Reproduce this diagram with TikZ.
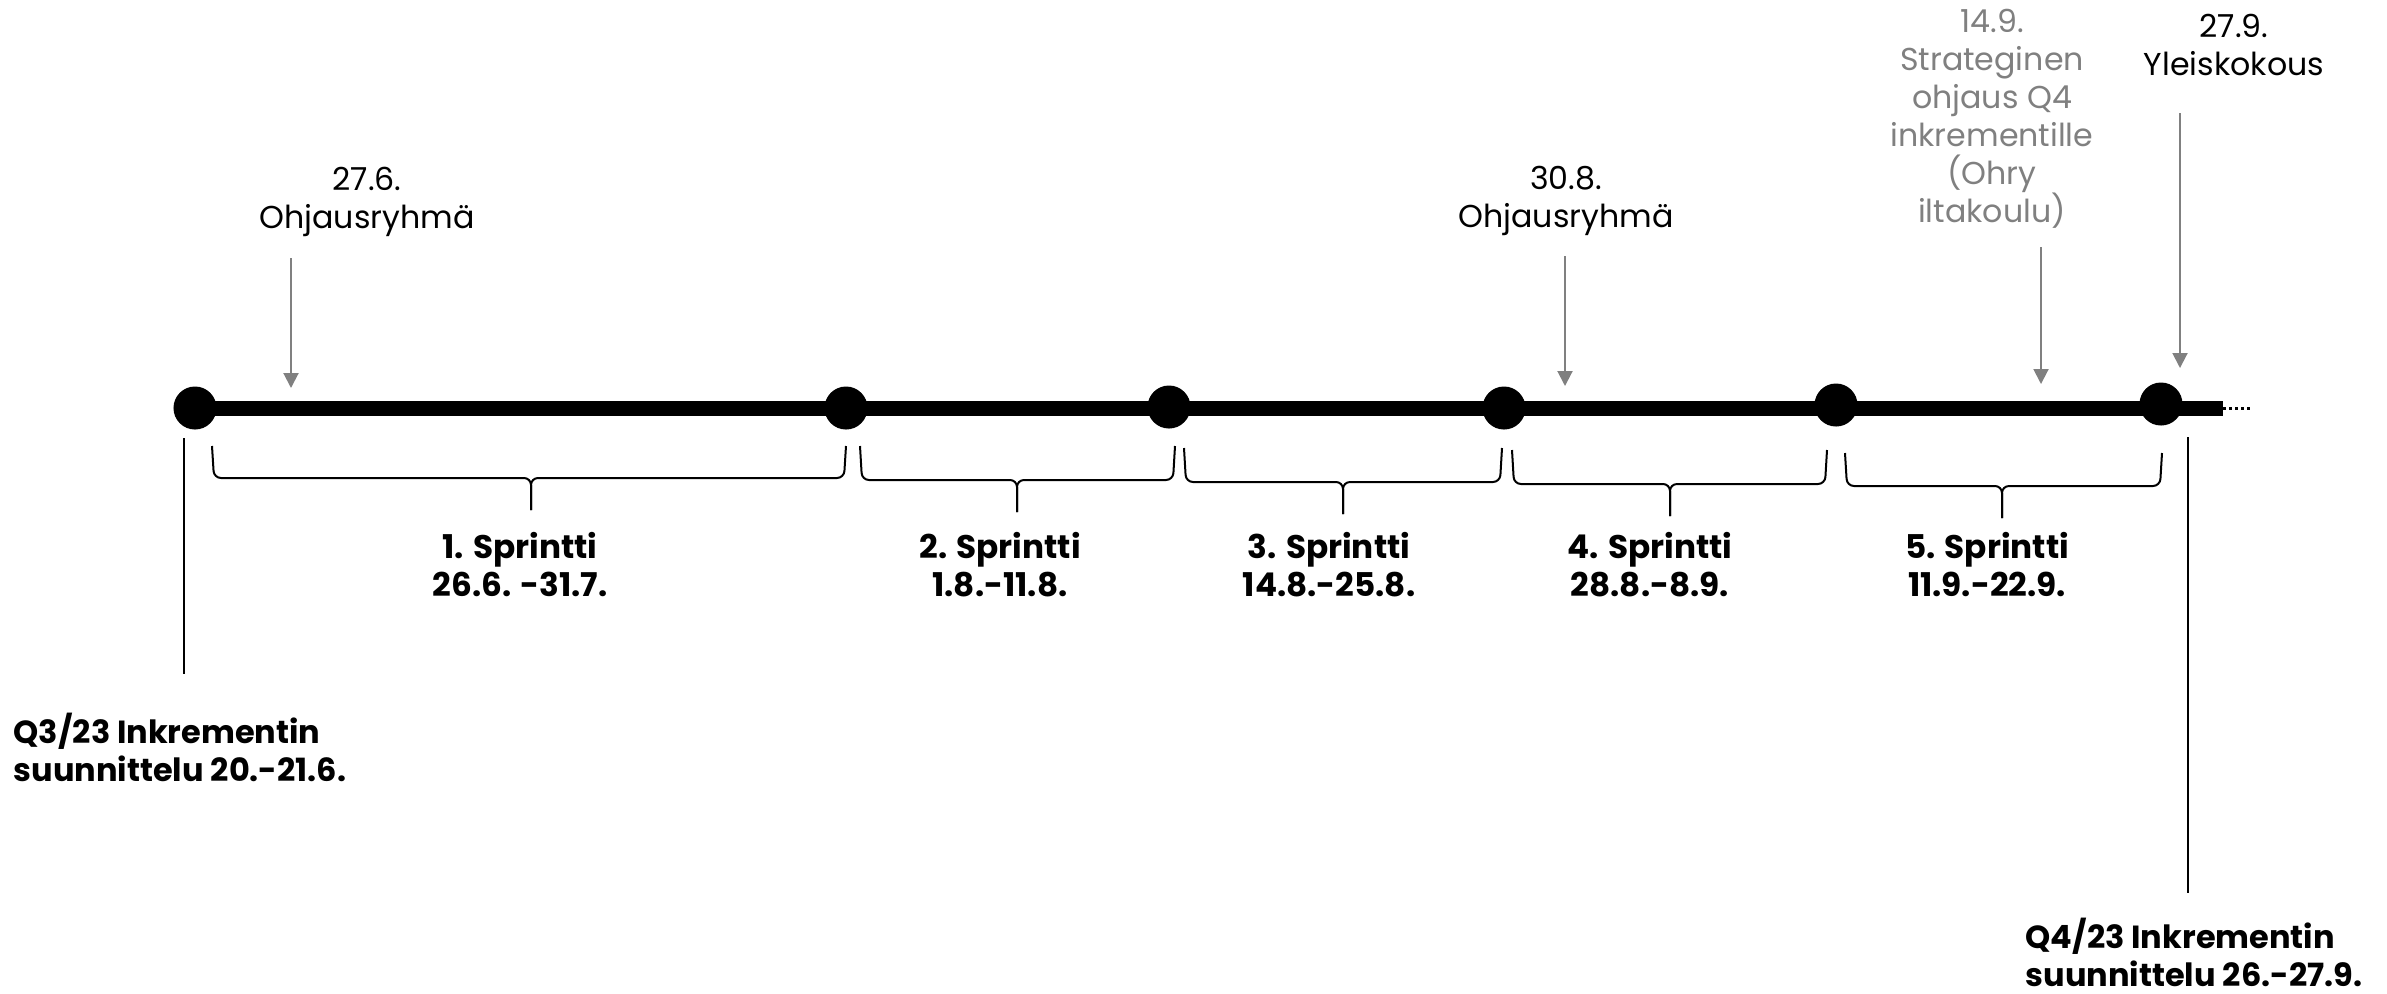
\documentclass[tikz,border=0pt]{standalone}
\usepackage{fontspec}
\setmainfont{Poppins}
\usetikzlibrary{arrows.meta}
\definecolor{notegray}{HTML}{808080}

\begin{document}
\begin{tikzpicture}[x=0.01cm,y=-0.01cm,
    timeline/.style={line width=0.15cm},
    dot/.style={circle,fill=black,inner sep=0pt,minimum size=0.43cm},
    braceline/.style={line width=0.02cm,rounded corners=0.07cm},
    tickline/.style={line width=0.02cm},
    notearrow/.style={draw=notegray,line width=0.02cm,-{Triangle[length=0.15cm,width=0.15cm]}},
    note/.style={align=center,anchor=base,inner sep=0pt,font=\fontsize{9}{10.77}\selectfont},
    sprint/.style={align=center,anchor=base,inner sep=0pt,font=\fontsize{9.3}{10.77}\selectfont\bfseries},
    plan/.style={align=left,anchor=base west,inner sep=0pt,font=\fontsize{9.1}{10.77}\selectfont\bfseries}]
    \useasboundingbox (0,0) rectangle (2387,993);

    % Sprint boundaries on the time line
    \node[dot] (d1) at (195,408) {};
    \node[dot] (d2) at (846,408) {};
    \node[dot] (d3) at (1169,407) {};
    \node[dot] (d4) at (1504,408) {};
    \node[dot] (d5) at (1836,405) {};
    \node[dot] (d6) at (2161,404) {};

    % Drawing the time line
    \coordinate (lineend) at (2223,408);
    \coordinate (dotsend) at (2252,408);
    \draw[timeline] (d1.center) -- (lineend);
    \draw[line width=0.03cm,dash pattern=on 0.03cm off 0.03cm] (lineend) -- (dotsend);

    % Drawing brace 1
    \draw[braceline] (212,446) -- (214,478) -- (531,478) -- (531,510);
    \draw[braceline] (531,510) -- (531,478) -- (844,478) -- (846,446);
    % Drawing brace 2
    \draw[braceline] (860,446) -- (862,480) -- (1017,480) -- (1017,512);
    \draw[braceline] (1017,512) -- (1017,480) -- (1173,480) -- (1175,446);
    % Drawing brace 3
    \draw[braceline] (1184,448) -- (1186,482) -- (1343,482) -- (1343,514);
    \draw[braceline] (1343,514) -- (1343,482) -- (1500,482) -- (1502,448);
    % Drawing brace 4
    \draw[braceline] (1512,450) -- (1514,484) -- (1670,484) -- (1670,516);
    \draw[braceline] (1670,516) -- (1670,484) -- (1825,484) -- (1827,450);
    % Drawing brace 5
    \draw[braceline] (1845,453) -- (1847,486) -- (2002,486) -- (2002,518);
    \draw[braceline] (2002,518) -- (2002,486) -- (2160,486) -- (2162,453);

    % Sprint labels
    \node[sprint] (s1) at (520,596) {1. Sprintti\\26.6. -31.7.};
    \node[sprint] (s2) at (1000,596) {2. Sprintti\\1.8.-11.8.};
    \node[sprint] (s3) at (1329,596) {3. Sprintti\\14.8.-25.8.};
    \node[sprint] (s4) at (1650,596) {4. Sprintti\\28.8.-8.9.};
    \node[sprint] (s5) at (1987,596) {5. Sprintti\\11.9.-22.9.};

    % Increment planning, Q3
    \coordinate (q3top) at (184,438);
    \coordinate (q3bot) at (184,674);
    \draw[tickline] (q3top) -- (q3bot);
    \node[plan] (q3) at (13,781) {Q3/23 Inkrementin\\suunnittelu 20.-21.6.};

    % Increment planning, Q4
    \coordinate (q4top) at (2188,437);
    \coordinate (q4bot) at (2188,893);
    \draw[tickline] (q4top) -- (q4bot);
    \node[plan] (q4) at (2025,986) {Q4/23 Inkrementin\\suunnittelu 26.-27.9.};

    % Steering group 27.6.
    \node[note] (n1) at (367,228) {27.6.\\Ohjausryhmä};
    \coordinate (a1from) at (291,258);
    \coordinate (a1to) at (291,388);
    \draw[notearrow] (a1from) -- (a1to);

    % Steering group 30.8.
    \node[note] (n2) at (1566,227) {30.8.\\Ohjausryhmä};
    \coordinate (a2from) at (1565,256);
    \coordinate (a2to) at (1565,386);
    \draw[notearrow] (a2from) -- (a2to);

    % Strategic steering 14.9.
    \node[note,text=notegray] (n3) at (1992,222) {14.9.\\Strateginen\\ohjaus Q4\\inkrementille\\(Ohry\\iltakoulu)};
    \coordinate (a3from) at (2041,247);
    \coordinate (a3to) at (2041,384);
    \draw[notearrow] (a3from) -- (a3to);

    % General meeting 27.9.
    \node[note] (n4) at (2234,75) {27.9.\\Yleiskokous};
    \coordinate (a4from) at (2180,113);
    \coordinate (a4to) at (2180,368);
    \draw[notearrow] (a4from) -- (a4to);
\end{tikzpicture}
\end{document}
